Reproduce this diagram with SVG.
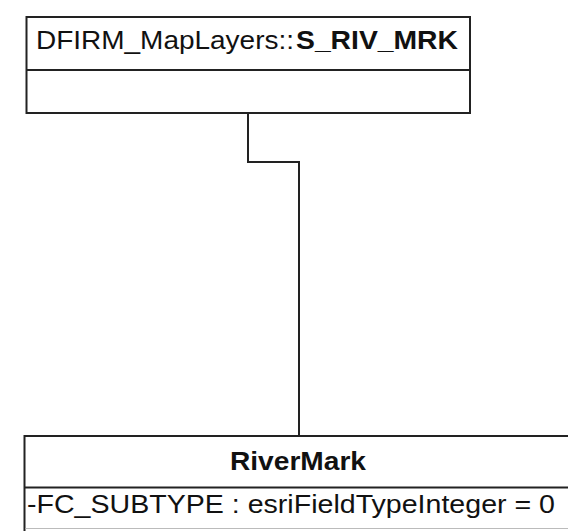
<svg xmlns="http://www.w3.org/2000/svg" width="568" height="531" viewBox="0 0 568 531">
<style>
.box{fill:#fff;stroke:#222;stroke-width:2}
.ln{fill:none;stroke:#222;stroke-width:2}
.t{font-family:"Liberation Sans",Arial,sans-serif;font-size:26px;fill:#111}
.b{font-weight:bold}
</style>
<rect width="568" height="531" fill="#fff"/>
<g id="connectors">
<polyline class="ln" points="248,113 248,162 299,162 299,436"/>
</g>
<g id="S_RIV_MRK">
<rect class="box" x="26.5" y="17" width="443.5" height="96"/>
<line class="ln" x1="26.5" y1="70" x2="470" y2="70"/>
<text class="t" x="36" y="49" textLength="258" lengthAdjust="spacingAndGlyphs">DFIRM_MapLayers::</text>
<text class="t b" x="296" y="49" textLength="162" lengthAdjust="spacingAndGlyphs">S_RIV_MRK</text>
</g>
<g id="RiverMark">
<rect class="box" x="24.5" y="436" width="550" height="110"/>
<line class="ln" x1="24.5" y1="487.5" x2="575" y2="487.5"/>
<line x1="25.5" y1="528.5" x2="568" y2="528.5" stroke="#bbb" stroke-width="1"/>
<text class="t b" x="230" y="470" textLength="136" lengthAdjust="spacingAndGlyphs">RiverMark</text>
<text class="t" x="27" y="513" textLength="528" lengthAdjust="spacingAndGlyphs">-FC_SUBTYPE : esriFieldTypeInteger = 0</text>
</g>
</svg>
